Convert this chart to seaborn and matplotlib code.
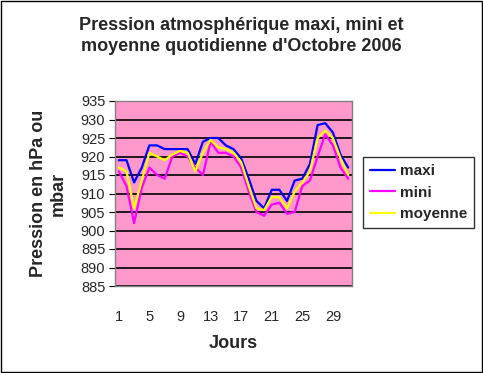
import numpy as np
import pandas as pd
import matplotlib
matplotlib.use("Agg")
import matplotlib.pyplot as plt
import seaborn as sns

# daily values (October 2006)
jours = list(range(1, 32))
maxi = [919, 919, 913, 917, 923, 923, 922, 922, 922, 922, 918, 924, 925, 925, 923,
        922, 919.5, 914, 908, 906, 911, 911, 908, 913.5, 914, 918, 928.5, 929, 926.5, 920.5, 917]
mini = [916, 912, 902, 911.5, 917, 915, 914, 920, 921, 920, 917, 915, 924, 921, 921,
        920, 917, 910.5, 905, 904, 907, 907.5, 904.5, 905, 912, 913.5, 920, 926, 923, 917, 914]
moyenne = [917, 916, 906, 913.5, 921, 920, 919, 920.5, 921.5, 921, 916, 921, 924.5, 922.5, 922,
           921, 918.5, 912, 906, 905.5, 909, 909, 906, 910.5, 913, 916, 925, 927, 925, 919.5, 915]

df = pd.DataFrame({"Jours": jours, "maxi": maxi, "mini": mini, "moyenne": moyenne})
long = df.melt(id_vars="Jours", var_name="serie", value_name="pression")

sns.set_style("white")
plt.rcParams["font.family"] = ["Liberation Sans", "DejaVu Sans"]

fig = plt.figure(figsize=(4.83, 3.73), dpi=100)
fig.patch.set_facecolor("white")
ax = fig.add_axes([115/483, 1-286/373, 237/483, 185/373])

pal = {"maxi": "#0000ff", "mini": "#ff00ff", "moyenne": "#ffff00"}
sns.lineplot(data=long, x="Jours", y="pression", hue="serie", palette=pal,
             linewidth=1.6, ax=ax)

ax.set_facecolor("#ff99cc")
ax.set_xlim(0.5, 31.5)
ax.set_ylim(885, 935)
ax.set_yticks(np.arange(885, 936, 5))
ax.yaxis.grid(True, color="black", linewidth=1.2)
ax.set_axisbelow(True)
for s in ax.spines.values():
    s.set_color("#808080")
    s.set_linewidth(1)

ax.set_xticks(range(1, 32, 4))
ax.set_xticks(np.arange(0.5, 32, 1), minor=True)
ax.tick_params(axis="x", which="major", length=0, labelsize=10.5, pad=17)
ax.tick_params(axis="x", which="minor", length=3, direction="in", color="black")
ax.tick_params(axis="y", which="major", length=4, direction="out", color="black",
               labelsize=10.5, pad=3, left=True)

ax.set_xlabel("Jours", fontsize=13, fontweight="bold", labelpad=8)
ax.set_ylabel("Pression en hPa ou\nmbar", fontsize=13, fontweight="bold", labelpad=10)

fig.text(0.5, 1-36/373, "Pression atmosphérique maxi, mini et\nmoyenne quotidienne d'Octobre 2006",
         fontsize=13, fontweight="bold", ha="center", va="center", linespacing=1.37)

leg = ax.legend(loc="upper left", bbox_to_anchor=(363/483, 1-157/373),
                bbox_transform=fig.transFigure, frameon=True, fancybox=False,
                borderaxespad=0, prop={"size": 11, "weight": "bold"},
                handlelength=1.65, borderpad=0.45, labelspacing=0.5, handletextpad=0.3)
leg.get_frame().set_edgecolor("black")
leg.get_frame().set_linewidth(1)

fig.patches.append(plt.Rectangle((0.002, 0.002), 0.996, 0.996, transform=fig.transFigure,
                                 fill=False, edgecolor="black", linewidth=1))

fig.savefig("out.png", dpi=100)
